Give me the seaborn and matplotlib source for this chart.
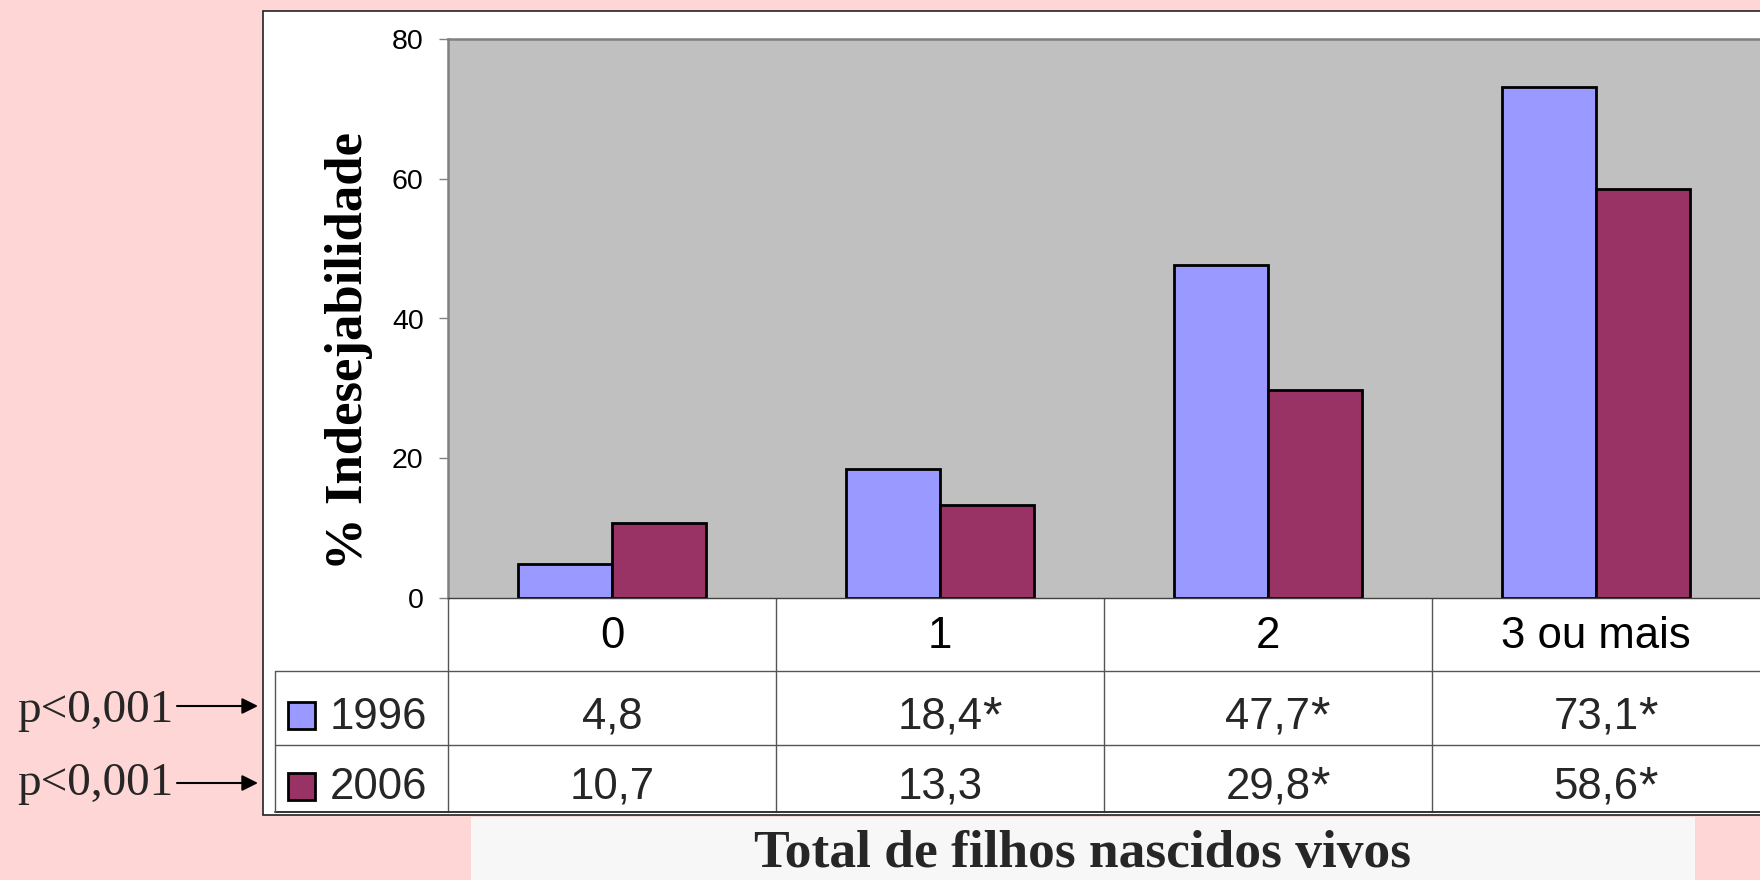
import matplotlib
matplotlib.use("Agg")
import matplotlib.pyplot as plt
import matplotlib.transforms as mtransforms
from matplotlib.patches import Rectangle
import pandas as pd
import seaborn as sns

# ---- data ----
categories = ["0", "1", "2", "3 ou mais"]
years = ["1996", "2006"]
values_1996 = [4.8, 18.4, 47.7, 73.1]
values_2006 = [10.7, 13.3, 29.8, 58.6]
signif_1996 = [False, True, True, True]
signif_2006 = [False, False, True, True]
yticks = [0, 20, 40, 60, 80]
p_labels = ["p<0,001", "p<0,001"]
ylabel = "% Indesejabilidade"
xlabel = "Total de filhos nascidos vivos"

colors = {"1996": "#9999FF", "2006": "#993366"}

df = pd.DataFrame({
    "categoria": categories * 2,
    "ano": [years[0]] * len(categories) + [years[1]] * len(categories),
    "valor": values_1996 + values_2006,
})

sns.set_theme(style="white")
plt.rcParams["font.family"] = ["Liberation Sans", "DejaVu Sans"]
SERIF = ["Liberation Serif", "DejaVu Serif"]

W, H = 1760, 880
fig = plt.figure(figsize=(W / 100, H / 100), dpi=100, facecolor="#FFD6D6")

# pixel-space layer for the frame, data table and annotations
bg = fig.add_axes([0, 0, 1, 1], zorder=0)
bg.set_xlim(0, W)
bg.set_ylim(H, 0)
bg.axis("off")
bg.patch.set_alpha(0)

bg.add_patch(Rectangle((263, 11), W - 263 + 10, 815 - 11, facecolor="white",
                       edgecolor="#222222", lw=1.2))
bg.add_patch(Rectangle((471, 817), 1695 - 471, H - 817 + 5, facecolor="#F7F7F7",
                       edgecolor="none"))

# ---- bar chart ----
x0, y_zero, y_top = 448, 598, 39
ax = fig.add_axes([x0 / W, (H - y_zero) / H, (W - x0) / W, (y_zero - y_top) / H], zorder=1)
sns.barplot(data=df, x="categoria", y="valor", hue="ano", order=categories,
            hue_order=years, palette=colors, width=0.574, edgecolor="black",
            linewidth=2, saturation=1, errorbar=None, legend=False, ax=ax)
ax.set_facecolor("#C0C0C0")
ax.set_xlim(-0.5, len(categories) - 0.5)
ax.set_ylim(yticks[0], yticks[-1])
ax.set_yticks(yticks)
ax.set_xticks(range(len(categories)), labels=categories)

for side in ("top", "left"):
    ax.spines[side].set_color("#808080")
    ax.spines[side].set_linewidth(1.8)
ax.spines["bottom"].set_color("#404040")
ax.spines["bottom"].set_linewidth(1.0)
ax.spines["right"].set_visible(False)

ax.tick_params(axis="y", left=True, length=6.5, width=1, color="#808080",
               pad=11, labelsize=20.5, labelcolor="black")
ax.tick_params(axis="x", bottom=True, length=0, pad=13.2, labelsize=31.5,
               labelcolor="black")
ax.set_xlabel("")
ax.set_ylabel(ylabel, fontsize=38, fontweight="bold", family=SERIF, color="black")
ax.yaxis.set_label_coords(-0.0572, 0.442)

# ---- data table under the chart ----
tr = mtransforms.blended_transform_factory(ax.transData, bg.transData)
line_kw = dict(color="#555555", lw=1.0, clip_on=False)
for xb in [-0.5 + i for i in range(len(categories))]:
    bg.plot([xb, xb], [y_zero, 812], transform=tr, **line_kw)
for yl in (671, 745):
    bg.plot([275, W], [yl, yl], **line_kw)
bg.plot([275, W], [812, 812], color="#333333", lw=1.4, clip_on=False)
bg.plot([275, 275], [671, 812], **line_kw)


def fmt(v):
    return f"{v:.1f}".replace(".", ",")


rows = [
    (years[0], values_1996, signif_1996, 702, 729),
    (years[1], values_2006, signif_2006, 773, 799),
]
for year, vals, sig, sq_top, base in rows:
    bg.add_patch(Rectangle((288, sq_top), 27, 27, facecolor=colors[year],
                           edgecolor="black", lw=2))
    bg.text(330, base, year, ha="left", va="baseline", fontsize=31.5)
    for i, (v, s) in enumerate(zip(vals, sig)):
        t = bg.text(i, base, fmt(v), transform=tr, ha="center", va="baseline",
                    fontsize=31.5)
        if s:
            bg.annotate("*", xy=(1, 1), xycoords=t, xytext=(0, 1),
                        textcoords="offset points", ha="left", va="top",
                        fontsize=36)

# ---- significance notes with arrows ----
for label, base, ya in zip(p_labels, (722, 795), (706, 783)):
    bg.text(17, base, label, ha="left", va="baseline", fontsize=34, family=SERIF)
    bg.annotate("", xy=(258, ya), xytext=(177, ya),
                arrowprops=dict(arrowstyle="-|>", color="black", lw=1.5,
                                mutation_scale=24, shrinkA=0, shrinkB=0))

# ---- category axis title ----
bg.text(1083, 867, xlabel, ha="center", va="baseline", fontsize=38.5,
        fontweight="bold", family=SERIF)

fig.savefig("out.png", dpi=100, facecolor=fig.get_facecolor())
